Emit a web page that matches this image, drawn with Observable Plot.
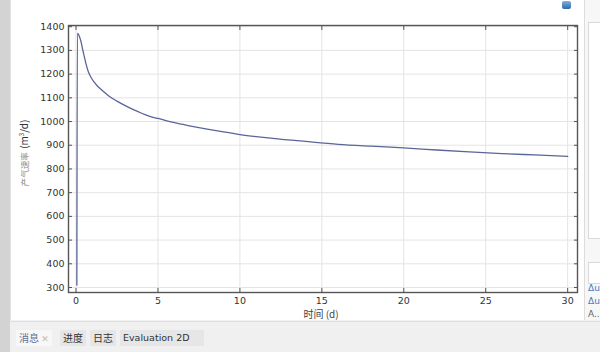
<!DOCTYPE html>
<html>
<head>
<meta charset="utf-8">
<script src="https://cdn.jsdelivr.net/npm/d3@7"></script>
<script src="https://cdn.jsdelivr.net/npm/@observablehq/plot@0.6"></script>
<style>
  html, body { margin: 0; padding: 0; width: 600px; height: 352px; overflow: hidden; background: #f2f2f2; font-family: "DejaVu Sans", "Noto Sans CJK SC", sans-serif; }
  #left { position: absolute; left: 0; top: 0; width: 10px; height: 352px; background: #d3d3d3; }
  #panel { position: absolute; left: 10px; top: 0; width: 573px; height: 320px; background: #fff; border-left: 1px solid #e2e2e2; }
  #chart { position: absolute; left: 0; top: 0; }
  #right { position: absolute; left: 584px; top: 0; width: 16px; height: 320px; background: #f7f7f7; border-left: 1px solid #dcdcdc; }
  #right .box { position: absolute; left: 3px; width: 13px; background: #fff; border: 1px solid #d8d8d8; }
  #right .du { position: absolute; left: 3px; font-size: 9px; color: #4a7cc0; font-family: "DejaVu Sans", sans-serif; }
  #icon { position: absolute; left: 562px; top: 1px; width: 9px; height: 8px; background: linear-gradient(#7fb0e0, #2e6aa8); border-radius: 2px; }
  #bottom { position: absolute; left: 10px; top: 321px; width: 590px; height: 31px; background: #f0f0f0; border-top: 1px solid #dedede; }
  .tab { position: absolute; top: 8px; height: 16px; line-height: 16px; font-size: 10px; color: #333; padding: 0 3px; font-family: "Noto Sans CJK SC", "DejaVu Sans", sans-serif; }
  #ylab { position: absolute; left: 21px; top: 153px; transform: translate(-50%, -50%) rotate(-90deg); white-space: nowrap; font-family: "Noto Sans CJK SC", "DejaVu Sans", sans-serif; }
  #xlab { position: absolute; left: 321px; top: 313px; transform: translate(-50%, -50%); white-space: nowrap; font-size: 10px; color: #444; font-family: "Noto Sans CJK SC", "DejaVu Sans", sans-serif; }
</style>
</head>
<body>
<div id="left"></div>
<div id="panel"><div id="chart"></div></div>
<div id="icon"></div>
<div id="right">
  <div class="box" style="top:22px;height:215px;"></div>
  <div class="box" style="top:262px;height:20px;"></div>
  <div class="du" style="top:283px;">Δu</div>
  <div class="du" style="top:296px;">Δu</div>
  <div class="du" style="top:309px;color:#666;">A..</div>
</div>
<div id="ylab"><span style="font-size:8.5px;color:#888;">产气速率</span> <span style="font-size:10px;color:#333;">(m<sup style="font-size:6px;">3</sup>/d)</span></div>
<div id="xlab">时间 (d)</div>
<div id="bottom">
  <div class="tab" style="left:6px;color:#5a6f96;background:#f7f7f7;">消息 <span style="color:#bbb;font-size:9px;">✕</span></div>
  <div class="tab" style="left:50px;background:#e6e6e6;">进度</div>
  <div class="tab" style="left:80px;background:#e6e6e6;">日志</div>
  <div class="tab" style="left:110px;background:#e6e6e6;padding-right:14px;font-family:'DejaVu Sans',sans-serif;font-size:9.5px;">Evaluation 2D</div>
</div>
<script>
// Data
const timeDays = [0.05, 0.08, 0.12, 0.2, 0.3, 0.4, 0.5, 0.6, 0.75, 0.9, 1.1, 1.3, 1.5, 2.0, 2.5, 3.0, 3.5, 4.0, 4.5, 5, 6, 7, 8, 9, 10, 12, 14, 16, 18, 20, 22, 24, 26, 28, 30];
const gasRate  = [310, 1372, 1370, 1360, 1338, 1305, 1275, 1245, 1210, 1188, 1167, 1150, 1137, 1108, 1086, 1067, 1050, 1035, 1022, 1013, 995, 981, 968, 956, 945, 929, 916, 904, 896, 889, 880, 872, 865, 859, 853];
const xTicks = [0, 5, 10, 15, 20, 25, 30];
const yTicks = [300, 400, 500, 600, 700, 800, 900, 1000, 1100, 1200, 1300, 1400];

const data = timeDays.map((t, i) => ({t, q: gasRate[i]}));
const font = "DejaVu Sans, sans-serif";

const chart = Plot.plot({
  width: 573,
  height: 320,
  marginLeft: 57,
  marginRight: 7,
  marginTop: 25,
  marginBottom: 28,
  style: {fontFamily: font, fontSize: "9.5px", color: "#333", background: "transparent"},
  x: {domain: [-0.46, 30.6]},
  y: {domain: [279, 1405]},
  marks: [
    Plot.gridX(xTicks, {stroke: "#e4e4e4", strokeOpacity: 1}),
    Plot.gridY(yTicks, {stroke: "#e4e4e4", strokeOpacity: 1}),
    // inward tick marks on all sides
    Plot.axisX(xTicks, {anchor: "bottom", tickSize: -4, tickFormat: () => "", label: null, stroke: "#555"}),
    Plot.axisX(xTicks, {anchor: "top", tickSize: -4, tickFormat: () => "", label: null, stroke: "#555"}),
    Plot.axisY(yTicks, {anchor: "left", tickSize: -4, tickFormat: () => "", label: null, stroke: "#555"}),
    Plot.axisY(yTicks, {anchor: "right", tickSize: -4, tickFormat: () => "", label: null, stroke: "#555"}),
    // tick labels
    Plot.axisX(xTicks, {anchor: "bottom", tickSize: 0, tickPadding: 5, label: null, fill: "#333", tickFormat: d => String(d)}),
    Plot.axisY(yTicks, {anchor: "left", tickSize: 0, tickPadding: 4, label: null, fill: "#333", tickFormat: d => String(d)}),
    Plot.line(data, {x: "t", y: "q", stroke: "#5a6598", strokeWidth: 1.3, curve: "monotone-x"}),
    Plot.frame({stroke: "#555", strokeWidth: 1.4})
  ]
});
document.getElementById("chart").appendChild(chart);
</script>
</body>
</html>
